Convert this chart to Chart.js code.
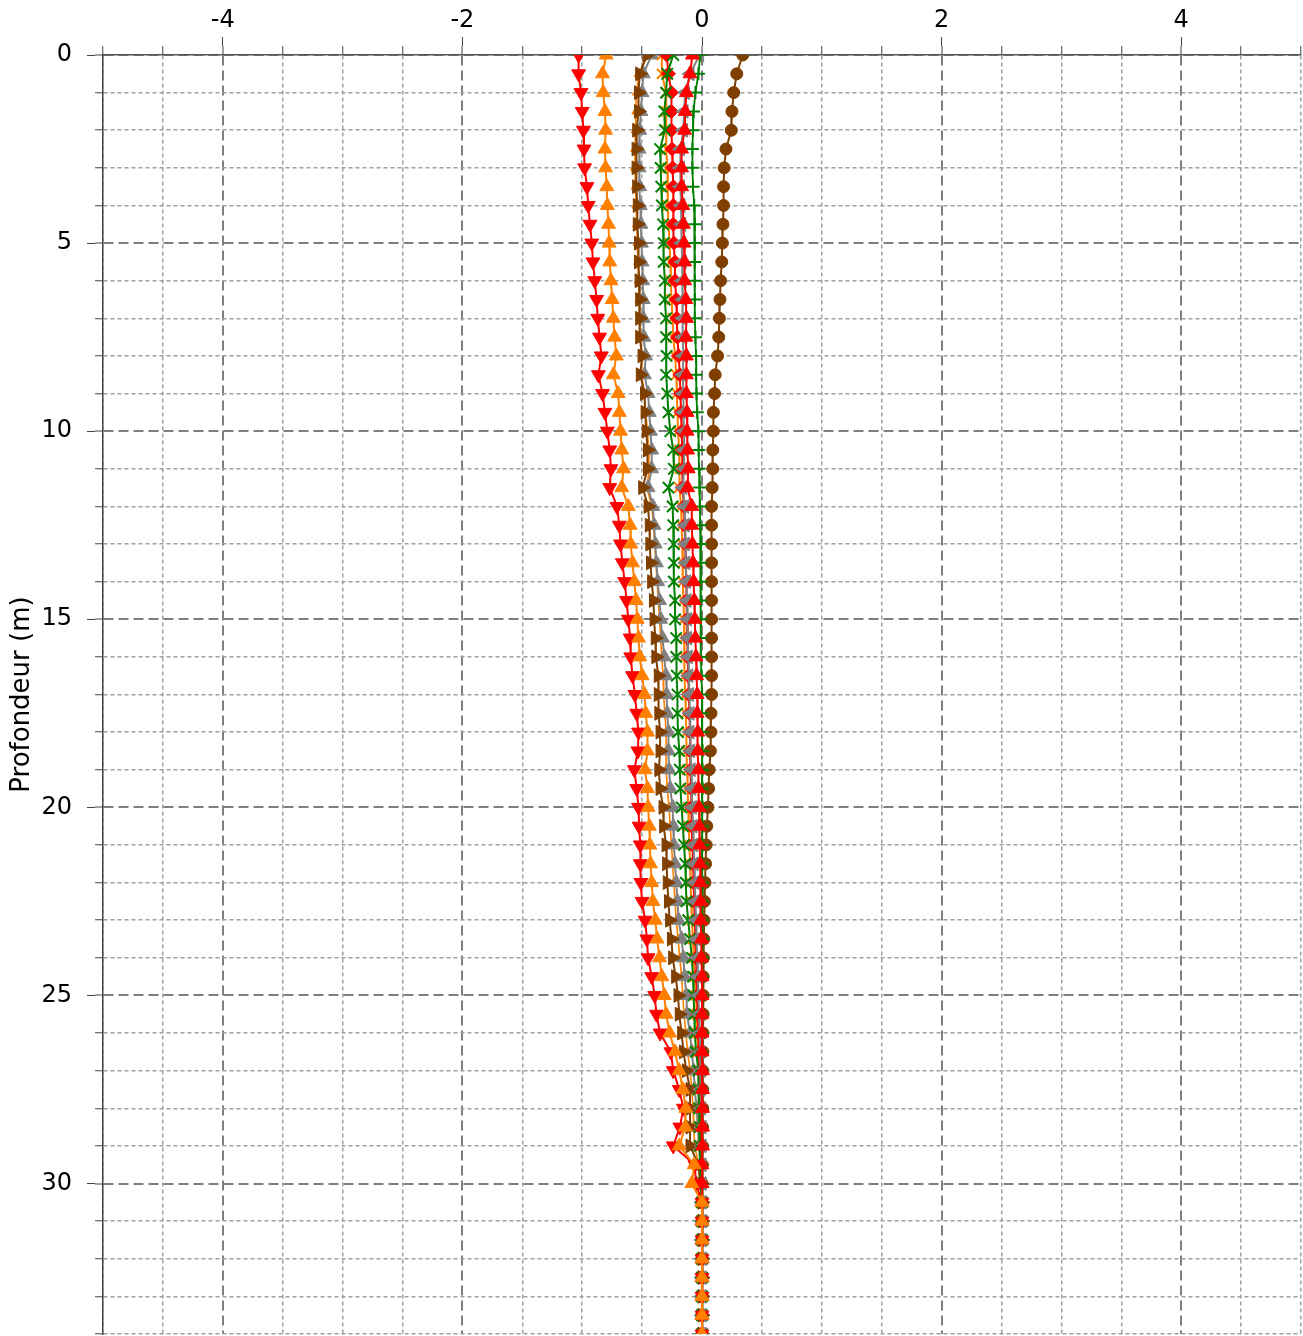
<!DOCTYPE html>
<html>
<head>
<meta charset="utf-8">
<script src="https://cdn.jsdelivr.net/npm/chart.js@4.4.1/dist/chart.umd.min.js"></script>
<style>
  html, body { margin: 0; padding: 0; background: #fff; overflow: hidden; }
  canvas { display: block; }
</style>
</head>
<body>
<canvas id="chart" width="1303" height="1336" style="width:1303px;height:1336px"></canvas>
<script>
// depth of each reading (m)
const depths = [
  0, 0.5, 1, 1.5, 2, 2.5, 3, 3.5, 4, 4.5,
  5, 5.5, 6, 6.5, 7, 7.5, 8, 8.5, 9, 9.5,
  10, 10.5, 11, 11.5, 12, 12.5, 13, 13.5, 14, 14.5,
  15, 15.5, 16, 16.5, 17, 17.5, 18, 18.5, 19, 19.5,
  20, 20.5, 21, 21.5, 22, 22.5, 23, 23.5, 24, 24.5,
  25, 25.5, 26, 26.5, 27, 27.5, 28, 28.5, 29, 29.5,
  30, 30.5, 31, 31.5, 32, 32.5, 33, 33.5, 34
];

// tick positions
const xMajorTicks = [-4, -2, 0, 2, 4];
const xMinorTicks = [-5, -4.5, -4, -3.5, -3, -2.5, -2, -1.5, -1, -0.5, 0, 0.5, 1, 1.5, 2, 2.5, 3, 3.5, 4, 4.5, 5];
const yMajorTicks = [0, 5, 10, 15, 20, 25, 30];
const yMinorTicks = [0, 1, 2, 3, 4, 5, 6, 7, 8, 9, 10, 11, 12, 13, 14, 15, 16, 17, 18, 19, 20,
  21, 22, 23, 24, 25, 26, 27, 28, 29, 30, 31, 32, 33, 34];

// readings per curve, one value per depth
const redDown = [
  -1.03, -1.03, -1.01, -1.00, -0.99, -0.985, -0.98, -0.96, -0.95, -0.935,
  -0.92, -0.91, -0.895, -0.88, -0.87, -0.855, -0.84, -0.865, -0.83, -0.81,
  -0.79, -0.77, -0.76, -0.77, -0.71, -0.69, -0.68, -0.665, -0.645, -0.63,
  -0.615, -0.60, -0.595, -0.58, -0.56, -0.545, -0.53, -0.535, -0.565, -0.545,
  -0.53, -0.525, -0.515, -0.515, -0.51, -0.50, -0.475, -0.46, -0.45, -0.42,
  -0.395, -0.38, -0.35, -0.26, -0.24, -0.19, -0.155, -0.185, -0.24, -0.06,
  -0.05, 0, 0, 0, 0, 0, 0, 0, 0
];
const orangeUp = [
  -0.80, -0.83, -0.825, -0.81, -0.805, -0.81, -0.805, -0.795, -0.79, -0.78,
  -0.775, -0.77, -0.76, -0.75, -0.74, -0.73, -0.715, -0.74, -0.70, -0.69,
  -0.68, -0.67, -0.655, -0.67, -0.615, -0.60, -0.595, -0.58, -0.565, -0.55,
  -0.54, -0.53, -0.52, -0.50, -0.48, -0.47, -0.455, -0.455, -0.475, -0.455,
  -0.45, -0.44, -0.435, -0.43, -0.42, -0.41, -0.39, -0.375, -0.355, -0.335,
  -0.315, -0.30, -0.27, -0.225, -0.19, -0.16, -0.135, -0.14, -0.19, -0.065,
  -0.085, 0, 0, 0, 0, 0, 0, 0, 0
];
const brownRight = [
  -0.46, -0.52, -0.53, -0.53, -0.545, -0.55, -0.55, -0.545, -0.54, -0.54,
  -0.53, -0.53, -0.525, -0.52, -0.52, -0.52, -0.50, -0.515, -0.48, -0.475,
  -0.465, -0.455, -0.455, -0.495, -0.45, -0.44, -0.435, -0.43, -0.42, -0.405,
  -0.40, -0.39, -0.385, -0.365, -0.365, -0.36, -0.35, -0.35, -0.36, -0.35,
  -0.325, -0.32, -0.30, -0.295, -0.29, -0.28, -0.27, -0.255, -0.245, -0.22,
  -0.20, -0.19, -0.17, -0.155, -0.13, -0.10, -0.10, -0.10, -0.10, -0.03,
  -0.015, 0, 0, 0, 0, 0, 0, 0, 0
];
const grayUp = [
  -0.42, -0.49, -0.50, -0.51, -0.52, -0.525, -0.525, -0.52, -0.515, -0.51,
  -0.505, -0.50, -0.495, -0.49, -0.49, -0.485, -0.47, -0.48, -0.45, -0.44,
  -0.43, -0.42, -0.42, -0.45, -0.41, -0.40, -0.39, -0.38, -0.37, -0.355,
  -0.345, -0.33, -0.315, -0.30, -0.295, -0.29, -0.28, -0.28, -0.275, -0.265,
  -0.245, -0.24, -0.235, -0.225, -0.215, -0.205, -0.195, -0.17, -0.155, -0.145,
  -0.13, -0.125, -0.10, -0.085, -0.07, -0.06, -0.045, -0.035, -0.025, -0.015,
  0, 0, 0, 0, 0, 0, 0, 0, 0
];
const orangeThin = [
  -0.45, -0.53, -0.545, -0.55, -0.555, -0.56, -0.56, -0.555, -0.55, -0.545,
  -0.54, -0.535, -0.53, -0.525, -0.52, -0.515, -0.50, -0.505, -0.48, -0.47,
  -0.455, -0.445, -0.44, -0.46, -0.42, -0.405, -0.395, -0.385, -0.375, -0.365,
  -0.355, -0.345, -0.335, -0.325, -0.32, -0.31, -0.30, -0.30, -0.30, -0.29,
  -0.275, -0.265, -0.255, -0.245, -0.235, -0.225, -0.215, -0.20, -0.185, -0.17,
  -0.16, -0.15, -0.135, -0.12, -0.10, -0.085, -0.075, -0.07, -0.06, -0.03,
  -0.01, 0, 0, 0, 0, 0, 0, 0, 0
];
const orangeCross = [
  -0.335, -0.335, -0.30, -0.30, -0.30, -0.295, -0.29, -0.285, -0.285, -0.28,
  -0.27, -0.265, -0.26, -0.255, -0.245, -0.24, -0.225, -0.215, -0.21, -0.205,
  -0.20, -0.19, -0.185, -0.19, -0.175, -0.17, -0.165, -0.16, -0.16, -0.155,
  -0.15, -0.15, -0.145, -0.145, -0.14, -0.135, -0.13, -0.13, -0.125, -0.12,
  -0.115, -0.11, -0.105, -0.10, -0.095, -0.09, -0.085, -0.075, -0.07, -0.06,
  -0.05, -0.045, -0.04, -0.035, -0.03, -0.025, -0.02, -0.02, -0.015, -0.01,
  -0.005, 0, 0, 0, 0, 0, 0, 0, 0
];
const greenCross = [
  -0.24, -0.29, -0.30, -0.315, -0.31, -0.35, -0.345, -0.34, -0.335, -0.325,
  -0.32, -0.32, -0.31, -0.31, -0.30, -0.30, -0.295, -0.30, -0.29, -0.28,
  -0.265, -0.24, -0.235, -0.28, -0.245, -0.24, -0.235, -0.235, -0.235, -0.225,
  -0.225, -0.215, -0.215, -0.21, -0.205, -0.205, -0.20, -0.19, -0.185, -0.18,
  -0.17, -0.16, -0.15, -0.14, -0.135, -0.13, -0.115, -0.10, -0.085, -0.075,
  -0.07, -0.065, -0.06, -0.05, -0.03, -0.03, -0.025, -0.02, -0.02, -0.015,
  -0.01, 0, 0, 0, 0, 0, 0, 0, 0
];
const redDiamond = [
  -0.295, -0.28, -0.255, -0.255, -0.255, -0.25, -0.245, -0.24, -0.24, -0.24,
  -0.235, -0.225, -0.225, -0.215, -0.21, -0.205, -0.195, -0.185, -0.18, -0.175,
  -0.17, -0.165, -0.16, -0.165, -0.15, -0.145, -0.14, -0.135, -0.13, -0.13,
  -0.125, -0.12, -0.12, -0.115, -0.11, -0.105, -0.10, -0.10, -0.095, -0.09,
  -0.09, -0.085, -0.08, -0.075, -0.07, -0.065, -0.06, -0.055, -0.05, -0.045,
  -0.04, -0.035, -0.03, -0.025, -0.02, -0.015, -0.01, -0.01, -0.005, 0,
  0, 0, 0, 0, 0, 0, 0, 0, 0
];
const grayLeft = [
  -0.02, -0.10, -0.14, -0.15, -0.155, -0.18, -0.18, -0.18, -0.175, -0.17,
  -0.17, -0.165, -0.165, -0.16, -0.16, -0.16, -0.155, -0.16, -0.155, -0.155,
  -0.15, -0.15, -0.15, -0.16, -0.145, -0.14, -0.14, -0.135, -0.13, -0.125,
  -0.12, -0.12, -0.115, -0.11, -0.105, -0.10, -0.10, -0.095, -0.09, -0.085,
  -0.08, -0.075, -0.07, -0.065, -0.06, -0.055, -0.05, -0.045, -0.04, -0.035,
  -0.03, -0.025, -0.02, -0.015, -0.01, -0.01, -0.005, 0, 0, 0,
  0, 0, 0, 0, 0, 0, 0, 0, 0
];
const redUp = [
  -0.08, -0.10, -0.13, -0.14, -0.145, -0.17, -0.17, -0.17, -0.16, -0.155,
  -0.15, -0.145, -0.145, -0.135, -0.13, -0.135, -0.13, -0.13, -0.13, -0.125,
  -0.125, -0.12, -0.115, -0.12, -0.085, -0.085, -0.08, -0.075, -0.07, -0.065,
  -0.06, -0.055, -0.05, -0.045, -0.04, -0.04, -0.035, -0.035, -0.03, -0.03,
  -0.025, -0.02, -0.02, -0.015, -0.015, -0.01, -0.01, -0.005, -0.005, 0,
  0, 0, 0, 0, 0.005, 0.005, 0.005, 0.005, 0.005, 0,
  0, 0, 0, 0, 0, 0, 0, 0, 0
];
const greenPlus = [
  -0.015, -0.03, -0.055, -0.07, -0.075, -0.08, -0.08, -0.075, -0.065, -0.06,
  -0.06, -0.06, -0.06, -0.06, -0.06, -0.055, -0.05, -0.05, -0.045, -0.04,
  -0.03, -0.028, -0.025, -0.02, -0.017, -0.015, -0.01, -0.01, -0.01, -0.01,
  -0.01, -0.01, -0.01, -0.005, 0, 0, 0, 0.005, 0.005, 0.005,
  0.005, 0.005, 0.005, 0.005, 0.005, 0.005, 0.005, 0.005, 0.005, 0.005,
  0.005, 0, 0, 0, 0, 0, 0, 0, 0, 0,
  0, 0, 0, 0, 0, 0, 0, 0, 0
];
const brownCircle = [
  0.34, 0.29, 0.265, 0.25, 0.245, 0.20, 0.185, 0.18, 0.18, 0.175,
  0.17, 0.165, 0.155, 0.15, 0.145, 0.14, 0.13, 0.11, 0.105, 0.095,
  0.095, 0.09, 0.09, 0.085, 0.08, 0.08, 0.08, 0.08, 0.08, 0.08,
  0.08, 0.08, 0.08, 0.08, 0.08, 0.075, 0.075, 0.07, 0.06, 0.055,
  0.05, 0.04, 0.035, 0.03, 0.025, 0.02, 0.017, 0.015, 0.012, 0.01,
  0.01, 0.01, 0.008, 0.008, 0.006, 0.005, 0.005, 0.004, 0.003, 0.002,
  0, 0, 0, 0, 0, 0, 0, 0, 0
];

const RED = '#ff0000';
const ORANGE = '#ff8000';
const BROWN = '#7f3f00';
const GRAY = '#808080';
const GREEN = '#008000';
const FONT = "'DejaVu Sans', Verdana, sans-serif";

Chart.defaults.font.family = FONT;

// one curve of the profile
function curve(label, values, color, style, extra) {
    return Object.assign({
        label: label,
        data: depths.map((d, i) => ({ x: values[i], y: d })),
        showLine: true,
        borderColor: color,
        backgroundColor: color,
        pointBackgroundColor: color,
        pointBorderColor: color,
        borderWidth: 2,
        pointStyle: style,
        pointRadius: 8,
        pointBorderWidth: 1,
        pointHoverRadius: 8,
        tension: 0,
        clip: 0
    }, extra || {});
}

const isIn = (list, v) => list.some(t => Math.abs(t - v) < 1e-6);

// dashed grid, longer dashes on the labelled values
function gridOpts(majors, tickLength) {
    return {
        drawOnChartArea: true,
        drawTicks: true,
        tickLength: tickLength,
        tickColor: '#444',
        tickWidth: 1,
        color: (c) => (c.tick && isIn(majors, c.tick.value)) ? '#7f7f7f' : '#a0a0a0',
        lineWidth: (c) => (c.tick && isIn(majors, c.tick.value)) ? 2 : 1.5
    };
}
function borderOpts(majors, color) {
    return {
        display: true,
        color: color,
        width: 1.5,
        dash: (c) => !c.tick ? [] : (isIn(majors, c.tick.value) ? [10, 5] : [4, 3])
    };
}

// fixed axis thickness, no extra room for overhanging labels
function fixSize(prop, size) {
    return (s) => {
        s[prop] = size;
        s.paddingTop = 0;
        s.paddingBottom = 0;
        s.paddingLeft = 0;
        s.paddingRight = 0;
    };
}

const ctx = document.getElementById('chart').getContext('2d');

new Chart(ctx, {
    type: 'scatter',
    data: {
        // first in the list is drawn on top
        datasets: [
            curve('S2', orangeUp, ORANGE, 'triangle'),
            curve('S1', redDown, RED, 'triangle', { pointRotation: 180 }),
            curve('S9', redUp, RED, 'triangle'),
            curve('S10', greenPlus, GREEN, 'cross', { pointRadius: 6.5, pointBorderWidth: 2, borderWidth: 1.8 }),
            curve('S8', grayLeft, GRAY, 'triangle', { pointRotation: -90 }),
            curve('S6', greenCross, GREEN, 'crossRot', { pointRadius: 8, pointBorderWidth: 2 }),
            curve('S7', redDiamond, RED, 'rectRot', { pointRadius: 7 }),
            curve('S5', orangeCross, ORANGE, 'crossRot', { pointRadius: 7, pointBorderWidth: 2 }),
            curve('S4', brownRight, BROWN, 'triangle', { pointRotation: 90 }),
            curve('S3', grayUp, GRAY, 'triangle'),
            curve('S2b', orangeThin, ORANGE, 'triangle', { pointRadius: 5, borderWidth: 1.6 }),
            curve('S11', brownCircle, BROWN, 'circle', { pointRadius: 6 })
        ]
    },
    options: {
        responsive: false,
        maintainAspectRatio: false,
        devicePixelRatio: 1,
        animation: false,
        layout: { autoPadding: false, padding: { top: 0, left: 0, right: 2, bottom: 2 } },
        plugins: {
            legend: { display: false },
            tooltip: { enabled: false }
        },
        scales: {
            x: {
                type: 'linear',
                position: 'top',
                min: -5,
                max: 5,
                weight: 0,
                afterBuildTicks: (s) => { s.ticks = xMinorTicks.map(v => ({ value: v })); },
                afterFit: fixSize('height', 9),
                ticks: { display: false },
                grid: gridOpts(xMajorTicks, 9),
                border: borderOpts(xMajorTicks, '#555')
            },
            xTop: {
                type: 'linear',
                position: 'top',
                min: -5,
                max: 5,
                weight: 1,
                afterBuildTicks: (s) => { s.ticks = xMajorTicks.map(v => ({ value: v })); },
                afterFit: fixSize('height', 46),
                ticks: {
                    color: '#000',
                    font: { size: 24 },
                    padding: 2,
                    maxRotation: 0,
                    autoSkip: false
                },
                grid: { drawOnChartArea: false, tickLength: 9, tickColor: '#444' },
                border: { display: false }
            },
            y: {
                type: 'linear',
                position: 'left',
                reverse: true,
                min: 0,
                max: 34,
                weight: 0,
                afterBuildTicks: (s) => { s.ticks = yMinorTicks.map(v => ({ value: v })); },
                afterFit: fixSize('width', 8),
                ticks: { display: false },
                grid: gridOpts(yMajorTicks, 8),
                border: borderOpts(yMajorTicks, '#444')
            },
            yLeft: {
                type: 'linear',
                position: 'left',
                reverse: true,
                min: 0,
                max: 34,
                weight: 1,
                afterBuildTicks: (s) => { s.ticks = yMajorTicks.map(v => ({ value: v })); },
                afterFit: fixSize('width', 95),
                ticks: {
                    color: '#000',
                    font: { size: 24 },
                    padding: 15,
                    autoSkip: false
                },
                grid: { drawOnChartArea: false, tickLength: 8, tickColor: '#444' },
                border: { display: false },
                title: {
                    display: true,
                    text: 'Profondeur (m)',
                    color: '#000',
                    font: { size: 26 },
                    padding: { top: 7, bottom: 0 }
                }
            }
        }
    }
});
</script>
</body>
</html>
